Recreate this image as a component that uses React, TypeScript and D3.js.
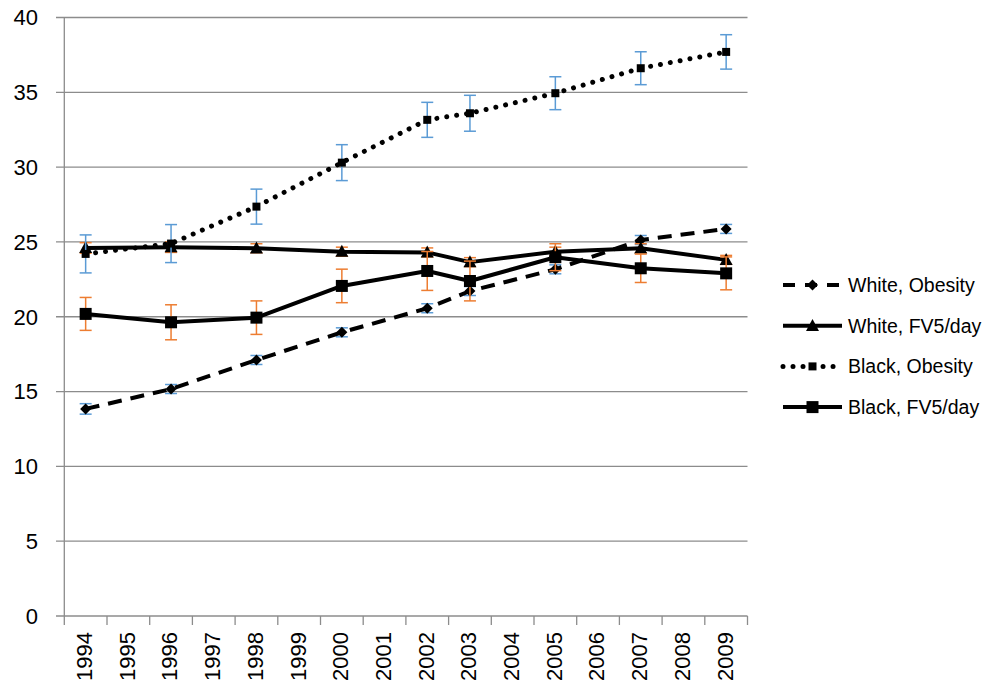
import React, { useEffect, useRef } from 'react';
import * as d3 from 'd3';

// x axis categories (every year is a slot, data only on survey years)
const years = ['1994', '1995', '1996', '1997', '1998', '1999', '2000', '2001',
  '2002', '2003', '2004', '2005', '2006', '2007', '2008', '2009'];
const dataYears = ['1994', '1996', '1998', '2000', '2002', '2003', '2005', '2007', '2009'];
const yTicks = [0, 5, 10, 15, 20, 25, 30, 35, 40];

const whiteObesity = [13.84, 15.17, 17.11, 18.96, 20.57, 21.72, 23.17, 25.13, 25.87];
const whiteObesityErr = [0.35, 0.3, 0.3, 0.3, 0.3, 0.3, 0.3, 0.3, 0.3];
const whiteFV = [24.6, 24.65, 24.58, 24.35, 24.3, 23.65, 24.35, 24.58, 23.8];
const whiteFVErr = [0.35, 0.35, 0.3, 0.3, 0.3, 0.3, 0.3, 0.3, 0.3];
const blackObesity = [24.2, 24.89, 27.36, 30.3, 33.16, 33.6, 34.94, 36.61, 37.7];
const blackObesityErr = [1.27, 1.27, 1.17, 1.2, 1.17, 1.2, 1.1, 1.1, 1.15];
const blackFV = [20.19, 19.63, 19.94, 22.06, 23.06, 22.39, 23.98, 23.24, 22.9];
const blackFVErr = [1.1, 1.17, 1.12, 1.12, 1.3, 1.33, 0.9, 0.95, 1.1];

const BLUE = '#5b9bd5';
const ORANGE = '#ed7d31';
const GRID = '#8c8c8c';
const FONT = 'Liberation Sans, Arial, sans-serif';

const series = [
  { name: 'White, Obesity', values: whiteObesity, err: whiteObesityErr, errColor: BLUE, dash: '14 9', cap: 'butt', width: 4, marker: 'diamond', size: 11 },
  { name: 'White, FV5/day', values: whiteFV, err: whiteFVErr, errColor: ORANGE, dash: null, cap: 'butt', width: 4, marker: 'triangle', size: 13 },
  { name: 'Black, Obesity', values: blackObesity, err: blackObesityErr, errColor: BLUE, dash: '0.01 10', cap: 'round', width: 5, marker: 'square', size: 8 },
  { name: 'Black, FV5/day', values: blackFV, err: blackFVErr, errColor: ORANGE, dash: null, cap: 'butt', width: 4, marker: 'square', size: 12 },
];

function markerPath(type: string, s: number) {
  const h = s / 2;
  if (type === 'diamond') return `M0,${-h}L${h},0L0,${h}L${-h},0Z`;
  if (type === 'triangle') return `M0,${-h * 1.05}L${h},${h * 0.8}L${-h},${h * 0.8}Z`;
  return `M${-h},${-h}L${h},${-h}L${h},${h}L${-h},${h}Z`;
}

export default function App() {
  const ref = useRef<SVGSVGElement>(null);

  useEffect(() => {
    const svg = d3.select(ref.current);
    svg.selectAll('*').remove();

    const x = d3.scaleBand().domain(years).range([64.3, 747.5]).padding(0);
    const y = d3.scaleLinear().domain([0, 40]).range([616, 17.5]);
    const cx = (yr: string) => (x(yr) as number) + x.bandwidth() / 2;

    // gridlines
    svg.append('g').selectAll('line').data(yTicks).enter().append('line')
      .attr('x1', 56).attr('x2', 747.5)
      .attr('y1', d => y(d)).attr('y2', d => y(d))
      .attr('stroke', GRID).attr('stroke-width', 1.3);

    // y axis
    svg.append('line').attr('x1', 64.3).attr('x2', 64.3).attr('y1', y(40)).attr('y2', y(0))
      .attr('stroke', GRID).attr('stroke-width', 1.3);
    svg.append('g').selectAll('text').data(yTicks).enter().append('text')
      .attr('x', 38).attr('y', d => y(d)).attr('dy', '0.36em')
      .attr('text-anchor', 'end').attr('font-family', FONT).attr('font-size', 22)
      .attr('fill', '#000').text(d => d);

    // x axis ticks between categories
    const bounds = years.map(d => x(d) as number).concat([747.5]);
    svg.append('g').selectAll('line').data(bounds).enter().append('line')
      .attr('x1', d => d).attr('x2', d => d).attr('y1', y(0)).attr('y2', y(0) + 9)
      .attr('stroke', GRID).attr('stroke-width', 1.3);
    svg.append('g').selectAll('text').data(years).enter().append('text')
      .attr('transform', d => `translate(${cx(d) - 1.5},${y(0) + 16}) rotate(-90)`)
      .attr('dy', '0.36em').attr('text-anchor', 'end')
      .attr('font-family', FONT).attr('font-size', 22).attr('fill', '#000').text(d => d);

    const line = d3.line<number>().x((d, i) => cx(dataYears[i])).y(d => y(d));

    series.forEach(s => {
      const g = svg.append('g');
      // error bars
      const eb = g.selectAll('g.eb').data(s.values).enter().append('g')
        .attr('stroke', s.errColor).attr('stroke-width', 1.5).attr('fill', 'none');
      eb.append('line')
        .attr('x1', (d, i) => cx(dataYears[i])).attr('x2', (d, i) => cx(dataYears[i]))
        .attr('y1', (d, i) => y(d + s.err[i])).attr('y2', (d, i) => y(d - s.err[i]));
      eb.append('line')
        .attr('x1', (d, i) => cx(dataYears[i]) - 6).attr('x2', (d, i) => cx(dataYears[i]) + 6)
        .attr('y1', (d, i) => y(d + s.err[i])).attr('y2', (d, i) => y(d + s.err[i]));
      eb.append('line')
        .attr('x1', (d, i) => cx(dataYears[i]) - 6).attr('x2', (d, i) => cx(dataYears[i]) + 6)
        .attr('y1', (d, i) => y(d - s.err[i])).attr('y2', (d, i) => y(d - s.err[i]));
      // line
      g.append('path').attr('d', line(s.values))
        .attr('fill', 'none').attr('stroke', '#000').attr('stroke-width', s.width)
        .attr('stroke-linecap', s.cap).attr('stroke-linejoin', 'round')
        .attr('stroke-dasharray', s.dash);
      // markers
      g.selectAll('path.m').data(s.values).enter().append('path')
        .attr('transform', (d, i) => `translate(${cx(dataYears[i])},${y(d)})`)
        .attr('d', markerPath(s.marker, s.size)).attr('fill', '#000');
    });

    // legend
    const lg = svg.append('g').attr('transform', 'translate(783,285)');
    series.forEach((s, i) => {
      const row = lg.append('g').attr('transform', `translate(0,${i * 40.7})`);
      row.append('line').attr('x1', 0).attr('x2', 59).attr('y1', 0).attr('y2', 0)
        .attr('stroke', '#000').attr('stroke-width', s.width)
        .attr('stroke-linecap', s.cap).attr('stroke-dasharray', s.dash ? (s.dash === '14 9' ? '12 10' : s.dash) : null);
      row.append('path').attr('transform', 'translate(29.5,0)')
        .attr('d', markerPath(s.marker, s.size)).attr('fill', '#000');
      row.append('text').attr('x', 65).attr('y', 0).attr('dy', '0.36em')
        .attr('font-family', FONT).attr('font-size', 19.5).attr('fill', '#000').text(s.name);
    });
  }, []);

  return (
    <div style={{ position: 'absolute', left: 0, top: 0, width: 1000, height: 694, background: '#fff' }}>
      <svg ref={ref} width={1000} height={694} style={{ display: 'block' }} />
    </div>
  );
}
